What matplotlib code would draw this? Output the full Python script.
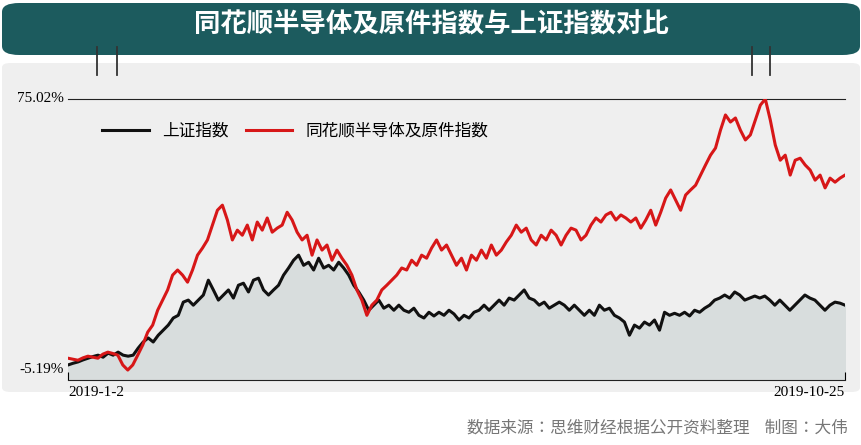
import matplotlib
matplotlib.use("Agg")
import matplotlib.pyplot as plt
from matplotlib.patches import FancyBboxPatch
import numpy as np

plt.rcParams["font.family"] = ["Noto Sans CJK JP", "Noto Sans CJK SC", "DejaVu Sans"]

title = "同花顺半导体及原件指数与上证指数对比"
series_names = ["上证指数", "同花顺半导体及原件指数"]
x_labels = ["2019-1-2", "2019-10-25"]
y_labels = ["75.02%", "-5.19%"]
y_ticks = [75.02, -5.19]
source = "数据来源：思维财经根据公开资料整理    制图：大伟"

semi = [-1.7,-2.0,-2.3,-1.6,-1.1,-1.4,-1.7,-0.5,0.1,-0.3,-0.8,-3.7,-5.2,-3.7,-0.8,2.2,6.0,8.1,12.5,15.5,18.5,22.9,24.4,22.9,
        20.8,24.4,28.8,30.9,33.3,37.7,42.1,43.6,39.2,33.3,36.2,34.7,37.7,33.3,38.6,36.2,39.8,35.6,36.8,37.7,
        41.5,39.2,35.6,33.3,34.7,28.8,33.3,30.3,31.8,27.3,30.3,27.9,25.8,22.9,18.5,15.5,11.0,14.0,15.5,18.5,
        19.9,21.4,22.9,25.0,24.4,27.3,25.8,28.8,27.9,30.9,33.3,30.3,31.8,28.8,25.8,27.9,24.4,28.8,27.3,30.3,
        27.9,31.8,28.8,30.3,32.7,34.7,37.7,35.6,36.8,33.3,31.8,34.7,33.3,36.2,34.7,31.8,34.7,36.8,36.2,33.3,
        34.7,37.7,39.8,38.6,40.7,41.5,39.2,40.7,39.8,38.6,39.8,36.8,39.2,42.1,37.7,41.5,45.7,48.1,45.1,42.1,
        46.6,48.1,49.5,52.5,55.5,58.4,60.5,65.8,70.3,68.2,69.4,65.8,62.9,64.4,68.8,73.2,75.02,68.8,61.4,56.9,
        58.4,52.5,56.9,57.5,55.5,54.0,51.0,52.5,48.7,51.6,50.4,51.6,52.5]
sh = [-3.7,-3.2,-2.8,-2.2,-1.7,-1.2,-0.8,-1.4,-0.2,-0.8,0.1,-0.8,-1.1,-0.8,1.3,3.1,4.3,3.1,5.1,6.6,8.1,10.2,11.0,
      14.9,15.5,14.0,15.5,17.0,21.4,18.5,15.5,17.0,18.5,16.1,19.9,20.5,17.9,21.4,22.0,18.5,17.0,18.5,19.9,
      22.9,25.0,27.3,28.8,25.8,26.7,24.4,27.9,25.0,25.8,24.4,26.7,25.0,22.9,19.9,17.9,15.5,12.5,14.0,15.5,
      13.1,14.0,12.5,14.0,12.5,11.9,13.1,11.0,10.2,11.9,10.8,11.9,11.0,12.5,11.4,9.6,11.0,10.2,11.9,12.5,
      14.0,12.5,14.0,15.5,14.0,16.1,15.5,17.0,18.5,16.1,15.5,14.0,14.9,13.1,14.0,14.9,14.0,12.5,14.0,12.5,
      11.0,12.5,11.0,14.0,12.5,13.1,11.0,10.2,9.0,5.1,8.1,7.2,9.0,8.1,9.6,6.6,11.9,11.0,11.6,11.0,
      11.9,10.8,12.5,11.9,13.1,14.0,15.5,16.1,17.0,16.1,17.9,17.0,15.5,16.1,16.7,16.1,16.7,15.5,14.0,15.5,
      14.0,12.5,14.0,15.5,17.0,16.1,15.5,14.0,12.5,14.0,14.9,14.6,14.0]

W, H = 862, 445
fig = plt.figure(figsize=(W/100, H/100), dpi=100)
fig.patch.set_facecolor("white")

def fx(px): return px / W
def fy(py): return 1 - py / H

fig.patches.append(FancyBboxPatch((fx(2), fy(392)), fx(858), (392-63)/H,
    boxstyle="round,pad=0,rounding_size=0.01", transform=fig.transFigure,
    facecolor="#efefef", edgecolor="none", zorder=-5))
fig.patches.append(FancyBboxPatch((fx(2), fy(55)), fx(858), 52/H,
    boxstyle="round,pad=0,rounding_size=0.02", transform=fig.transFigure,
    facecolor="#1c5b5e", edgecolor="none", zorder=-4))
fig.text(0.5, fy(25), title, color="white", fontsize=19, fontweight="bold",
         ha="center", va="center")
for px in (97, 117, 752, 770):
    fig.add_artist(plt.Line2D([fx(px), fx(px)], [fy(47), fy(75)], color="#333333", lw=1.3))

ax = fig.add_axes([fx(68), fy(380), fx(845-68), (380-99)/H])
ax.set_zorder(5)
ax.set_facecolor("none")
x_sh = np.linspace(0, 1, len(sh))
x_se = np.linspace(0, 1, len(semi))
ymin = -8.15
ax.fill_between(x_sh, sh, ymin, color="#d8dddd", zorder=1)
ax.plot(x_sh, sh, color="#111111", lw=2.2, zorder=3, label=series_names[0])
ax.plot(x_se, semi, color="#d71718", lw=2.2, zorder=4, label=series_names[1])
ax.set_xlim(0, 1)
ax.set_ylim(ymin, 75.02)
for s in ("left", "right"):
    ax.spines[s].set_visible(False)
ax.spines["top"].set_color("#222222")
ax.spines["bottom"].set_color("#222222")
ax.set_yticks([])
ax.set_xticks([0, 1])
ax.set_xticklabels(x_labels, fontsize=11, fontfamily="Liberation Serif")
ax.tick_params(axis="x", length=6, direction="in", pad=4)
ax.get_xticklabels()[0].set_ha("left")
ax.get_xticklabels()[1].set_ha("right")
for yl, yv in zip(y_labels, y_ticks):
    ax.text(-0.005, yv, yl, transform=ax.get_yaxis_transform(), ha="right",
            va="center", fontsize=11, fontfamily="Liberation Serif")
ax.legend(loc="upper left", bbox_to_anchor=(0.025, 0.97), ncol=2, frameon=False,
          fontsize=12, handlelength=2.8, columnspacing=1.0)
fig.text(fx(848), fy(428), source, ha="right", va="center", fontsize=12, color="#777777")
fig.savefig("out.png", dpi=100)
